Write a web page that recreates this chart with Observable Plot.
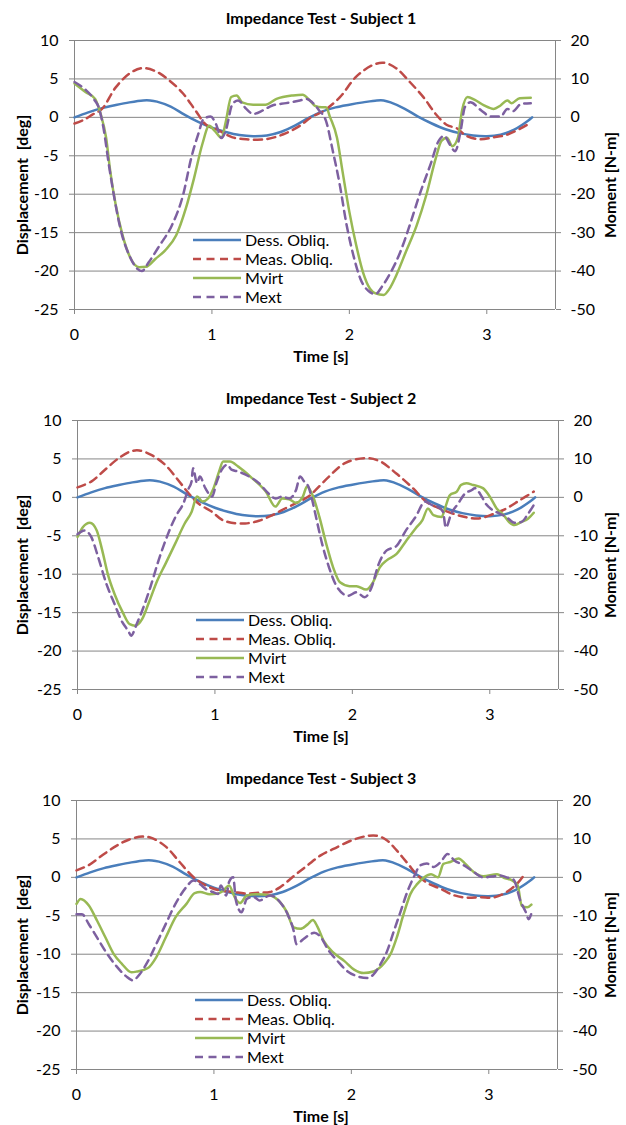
<!DOCTYPE html>
<html>
<head>
<meta charset="utf-8">
<script src="https://cdn.jsdelivr.net/npm/d3@7"></script>
<script src="https://cdn.jsdelivr.net/npm/@observablehq/plot@0.6"></script>
<style>
  html, body { margin: 0; padding: 0; background: #fff; overflow: hidden; }
  .panel { position: relative; width: 626px; height: 380px; }
  .panel svg { display: block; }
  .legend { position: absolute; font-family: Lato, "Open Sans", sans-serif; font-size: 16px; color: #000; }
  .legend .row { height: 19px; display: flex; align-items: center; }
  .legend .row svg { margin-right: 4px; flex: none; }
</style>
</head>
<body>
<div id="chart"></div>
<script>
// ---------- DATA ----------
const panelTitles = ["Impedance Test - Subject 1", "Impedance Test - Subject 2", "Impedance Test - Subject 3"];
const seriesNames = ["Dess. Obliq.", "Meas. Obliq.", "Mvirt", "Mext"];
const seriesColors = ["#4A7EBB", "#BE4B48", "#98B954", "#7D60A0"];
const dispTicks = [-25, -20, -15, -10, -5, 0, 5, 10];       // deg (left axis)
const timeTicks = [0, 1, 2, 3];                               // s

// Desired obliquity (deg) — same reference trajectory in all three tests
const dessObliq = [[0,0],[0.1,0.65],[0.2,1.2],[0.3,1.6],[0.4,1.95],[0.5,2.2],[0.55,2.2],[0.6,2.05],[0.7,1.4],[0.8,0.35],[0.9,-0.6],[1.0,-1.35],[1.1,-1.9],[1.2,-2.3],[1.3,-2.45],[1.4,-2.35],[1.5,-1.9],[1.6,-1.1],[1.7,-0.1],[1.8,0.75],[1.9,1.3],[2.0,1.65],[2.1,1.95],[2.2,2.2],[2.25,2.2],[2.3,1.95],[2.4,1.15],[2.5,0.1],[2.6,-0.8],[2.7,-1.55],[2.8,-2.05],[2.9,-2.35],[3.0,-2.45],[3.1,-2.25],[3.2,-1.6],[3.3,-0.45],[3.33,0]];

// Subject 1
const meas1 = [[0,-0.8],[0.07,-0.3],[0.13,0.35],[0.2,1.1],[0.3,3.9],[0.4,5.7],[0.49,6.4],[0.59,6.0],[0.69,4.8],[0.79,3.1],[0.88,0.9],[0.96,-1.0],[1.03,-1.5],[1.08,-2.0],[1.15,-2.6],[1.25,-2.85],[1.39,-2.85],[1.52,-2.2],[1.64,-1.1],[1.72,0],[1.81,0.8],[1.93,2.6],[2.05,5.3],[2.17,6.8],[2.25,7.1],[2.34,6.4],[2.44,4.6],[2.54,2.6],[2.63,0.4],[2.71,-1.0],[2.78,-1.4],[2.85,-2.4],[2.95,-2.85],[3.05,-2.6],[3.14,-2.3],[3.24,-1.5],[3.31,-0.8]];
const mvirt1 = [[0,8.8],[0.08,6.6],[0.15,4.8],[0.19,0.9],[0.23,-5.3],[0.26,-14],[0.3,-22.8],[0.35,-30.7],[0.41,-36.8],[0.47,-39],[0.52,-38.9],[0.59,-36.8],[0.66,-34.6],[0.74,-30.7],[0.81,-23.7],[0.87,-15.8],[0.93,-7],[0.98,-2.2],[1.02,-3.5],[1.07,-5.3],[1.1,-1.3],[1.14,5.3],[1.18,5.7],[1.22,3.9],[1.3,3.3],[1.39,3.3],[1.47,4.8],[1.59,5.7],[1.66,5.9],[1.71,4.5],[1.75,3.0],[1.8,2.6],[1.83,2.6],[1.86,0],[1.91,-5.3],[1.95,-14],[2.0,-24.6],[2.05,-33.3],[2.1,-40.4],[2.15,-44.6],[2.19,-45.8],[2.25,-46.2],[2.29,-44.7],[2.34,-41.2],[2.41,-35.1],[2.49,-28.1],[2.56,-20.2],[2.63,-10.5],[2.67,-6.1],[2.71,-5.3],[2.75,-7.5],[2.79,-5.3],[2.82,1.8],[2.86,5.3],[2.91,4.6],[2.98,3.1],[3.05,2.2],[3.1,3.1],[3.15,4.4],[3.18,3.7],[3.24,5.0],[3.32,5.1]];
const mext1 = [[0,9.2],[0.08,7.2],[0.14,4.8],[0.18,2.2],[0.21,-2.6],[0.25,-12.3],[0.29,-21],[0.34,-29.8],[0.4,-36],[0.46,-39.5],[0.49,-40],[0.54,-37.7],[0.62,-33.3],[0.71,-28],[0.79,-20.2],[0.85,-10.5],[0.9,-4.4],[0.94,-0.4],[0.99,0.2],[1.03,-1.8],[1.07,-5.4],[1.1,-3.5],[1.15,3.5],[1.19,4.4],[1.25,2.2],[1.3,0.9],[1.37,1.8],[1.44,3.1],[1.54,3.7],[1.64,4.4],[1.69,4.8],[1.73,3.9],[1.78,1.8],[1.83,-0.9],[1.88,-8.8],[1.93,-17.5],[1.98,-28],[2.03,-36],[2.08,-42],[2.14,-45.2],[2.19,-46],[2.24,-43.9],[2.3,-40.4],[2.37,-35.1],[2.44,-28],[2.51,-20.2],[2.59,-12.3],[2.65,-6.1],[2.69,-4.8],[2.73,-7],[2.77,-8.8],[2.81,-3.5],[2.84,2.6],[2.88,3.9],[2.96,1.8],[3.03,0.2],[3.1,0.2],[3.15,2.2],[3.19,1.6],[3.25,3.5],[3.32,3.7]];

// Subject 2
const meas2 = [[0,1.3],[0.1,2.05],[0.2,3.6],[0.3,5.1],[0.39,6.0],[0.45,6.1],[0.54,5.5],[0.64,4.2],[0.73,2.3],[0.81,0.5],[0.88,-0.8],[0.98,-1.9],[1.05,-2.9],[1.12,-3.3],[1.22,-3.4],[1.32,-3.05],[1.42,-2.3],[1.51,-1.45],[1.61,-0.6],[1.68,0.1],[1.73,0.9],[1.83,2.7],[1.95,4.5],[2.1,5.1],[2.2,4.7],[2.32,3.1],[2.44,1.2],[2.54,-0.6],[2.63,-1.4],[2.73,-2.1],[2.83,-2.6],[2.92,-2.75],[3.02,-2.2],[3.12,-1.45],[3.22,-0.35],[3.32,0.75]];
const mvirt2 = [[0,-10.3],[0.04,-7.7],[0.09,-6.6],[0.14,-8.6],[0.18,-13.8],[0.22,-19.9],[0.27,-25.2],[0.33,-30],[0.38,-33],[0.42,-33.4],[0.47,-31.7],[0.52,-27.3],[0.58,-21.7],[0.64,-17.3],[0.71,-12.1],[0.78,-6.8],[0.83,-3.8],[0.87,0.2],[0.91,-1.1],[0.95,-0.3],[0.99,2.4],[1.03,6.7],[1.06,9.3],[1.11,9.3],[1.17,8.0],[1.27,5.0],[1.37,1.5],[1.44,-2.4],[1.49,-0.3],[1.54,-0.5],[1.59,-1.4],[1.64,0.2],[1.67,2.8],[1.71,0.6],[1.76,-5.1],[1.81,-12.1],[1.86,-18.2],[1.91,-22.1],[1.98,-23.1],[2.03,-23.1],[2.1,-24],[2.15,-22.1],[2.2,-18.2],[2.25,-16.4],[2.32,-14.8],[2.39,-11.4],[2.46,-8.1],[2.51,-5.9],[2.55,-2.9],[2.59,-4.6],[2.65,-5.1],[2.67,-3.3],[2.71,0.6],[2.76,1.5],[2.79,3.2],[2.83,3.7],[2.88,3.2],[2.95,2.4],[3.0,0.2],[3.05,-2.9],[3.1,-4.6],[3.14,-6.4],[3.18,-7.2],[3.23,-6.4],[3.28,-5.5],[3.32,-4.0]];
const mext2 = [[0,-9.6],[0.05,-8.6],[0.1,-10.3],[0.15,-15.5],[0.21,-22.5],[0.27,-27.8],[0.32,-32.1],[0.37,-34.8],[0.39,-36],[0.43,-33],[0.48,-28.6],[0.53,-23.4],[0.59,-16.4],[0.66,-9.4],[0.72,-4.6],[0.77,-1.6],[0.81,2.4],[0.83,4.1],[0.84,7.6],[0.87,3.7],[0.89,5.4],[0.93,2.4],[0.98,0.2],[1.01,3.7],[1.05,7.2],[1.09,8.5],[1.12,7.2],[1.17,6.7],[1.25,5.4],[1.32,3.7],[1.39,1.0],[1.44,-0.3],[1.49,0.2],[1.54,-0.3],[1.59,1.9],[1.62,5.4],[1.65,4.1],[1.68,2.8],[1.71,-1.0],[1.73,-4.2],[1.78,-12.1],[1.83,-18.2],[1.89,-23.4],[1.97,-25.6],[2.03,-24.7],[2.09,-26],[2.14,-23.4],[2.19,-17.5],[2.25,-13.8],[2.32,-12.7],[2.39,-8.6],[2.46,-5.1],[2.53,-1.1],[2.58,-2.0],[2.62,-2.4],[2.66,-3.8],[2.68,-7.9],[2.72,-4.2],[2.77,-1.6],[2.82,1.0],[2.87,1.9],[2.89,2.4],[2.93,0.9],[2.97,-1.6],[3.02,-3.3],[3.07,-4.2],[3.12,-5.1],[3.18,-6.6],[3.23,-6.4],[3.28,-4.2],[3.32,-2.0]];

// Subject 3
const meas3 = [[0,0.9],[0.09,1.6],[0.19,2.9],[0.29,4.1],[0.38,4.9],[0.48,5.3],[0.55,5.1],[0.65,4.0],[0.75,2.0],[0.85,0.05],[0.94,-1.05],[1.04,-1.7],[1.14,-1.9],[1.24,-2.1],[1.33,-2.0],[1.41,-1.9],[1.48,-1.3],[1.58,0.15],[1.68,1.55],[1.78,2.9],[1.87,3.7],[2.0,4.8],[2.12,5.4],[2.19,5.4],[2.26,4.8],[2.33,3.5],[2.41,1.8],[2.48,0.3],[2.55,-0.7],[2.65,-1.5],[2.75,-2.35],[2.84,-2.65],[2.94,-2.6],[3.04,-2.6],[3.13,-1.9],[3.21,-0.75],[3.26,0.4]];
const mvirt3 = [[0,-6.9],[0.03,-5.6],[0.09,-7.3],[0.15,-11.3],[0.21,-15.6],[0.27,-19.9],[0.33,-22.5],[0.4,-24.7],[0.44,-24.5],[0.52,-23.6],[0.58,-20.8],[0.65,-15.6],[0.72,-10.4],[0.8,-6.9],[0.86,-4.1],[0.9,-3.8],[0.97,-4.4],[1.02,-4.3],[1.07,-3.4],[1.11,-2.1],[1.15,-5.1],[1.19,-6.7],[1.24,-4.7],[1.31,-4.4],[1.41,-4.7],[1.48,-6.4],[1.53,-9.0],[1.58,-13],[1.63,-13.4],[1.68,-12.3],[1.72,-11.1],[1.75,-12.6],[1.8,-16.6],[1.87,-19.6],[1.95,-21.8],[2.02,-24],[2.09,-24.9],[2.16,-24.5],[2.24,-22.3],[2.29,-19.6],[2.33,-15.7],[2.38,-9.6],[2.43,-4.3],[2.48,-1.7],[2.53,0],[2.58,0.8],[2.63,0],[2.67,3.5],[2.72,4.0],[2.78,4.9],[2.83,3.5],[2.89,1.4],[2.96,0.3],[3.06,0.8],[3.11,-0.1],[3.17,-0.8],[3.21,-2.1],[3.24,-7.4],[3.28,-7.8],[3.31,-7.1]];
const mext3 = [[0,-9.6],[0.04,-9.6],[0.09,-12.2],[0.15,-15.7],[0.21,-19.2],[0.29,-23.1],[0.36,-25.7],[0.41,-26.8],[0.46,-25.2],[0.52,-21.8],[0.58,-17.4],[0.65,-12.1],[0.72,-6.9],[0.8,-2.5],[0.85,-0.8],[0.9,-1.8],[0.94,-3.0],[0.99,-3.8],[1.03,-4.3],[1.05,-2.1],[1.09,-4.7],[1.11,-1.2],[1.14,0],[1.16,-6.0],[1.2,-9.1],[1.24,-5.6],[1.29,-5.1],[1.33,-6.0],[1.41,-4.7],[1.48,-6.4],[1.54,-9.9],[1.58,-13.9],[1.6,-17.4],[1.65,-16.1],[1.7,-14.8],[1.73,-14.4],[1.78,-15.7],[1.83,-18.8],[1.9,-21.8],[1.97,-24.4],[2.04,-25.7],[2.12,-26.2],[2.16,-25.3],[2.21,-22.7],[2.26,-19.2],[2.31,-13.9],[2.36,-8.7],[2.41,-3.5],[2.46,0.5],[2.5,3.1],[2.55,3.6],[2.6,2.7],[2.65,4.0],[2.7,6.1],[2.75,4.4],[2.82,3.1],[2.89,1.4],[2.96,0],[3.04,0.3],[3.08,0.5],[3.13,0],[3.18,-0.6],[3.23,-6.1],[3.27,-9.1],[3.29,-10.9],[3.31,-9.4]];

// ---------- CHART ----------
const panels = [
  {title: panelTitles[0], meas: meas1, mvirt: mvirt1, mext: mext1, off: 0},
  {title: panelTitles[1], meas: meas2, mvirt: mvirt2, mext: mext2, off: 3},
  {title: panelTitles[2], meas: meas3, mvirt: mvirt3, mext: mext3, off: 2}
];
const FONT = "Lato, 'Open Sans', sans-serif";
const GRID = "#868686";
const DASH = "8,5.5";
const rows = arr => arr.map(([t, v]) => ({t, v}));
const lbl = {fontWeight: "bold", fontSize: 16, fill: "#000", lineAnchor: "middle", textAnchor: "middle"};

const root = document.getElementById("chart");
for (const p of panels) {
  const div = document.createElement("div");
  div.className = "panel";
  const chart = Plot.plot({
    width: 626, height: 380,
    marginTop: 40, marginBottom: 71,
    marginLeft: 74 + p.off, marginRight: 71 - p.off,
    x: {domain: [0, 3.5]},
    y: {domain: [-25, 10]},
    style: {fontFamily: FONT, fontSize: "16px", color: "#000", background: "#fff", overflow: "visible"},
    marks: [
      Plot.gridY({ticks: dispTicks, stroke: GRID, strokeOpacity: 1, strokeWidth: 1}),
      Plot.ruleX([0], {stroke: GRID, strokeWidth: 1}),
      Plot.ruleX([3.5], {stroke: GRID, strokeWidth: 1}),
      Plot.axisY({ticks: dispTicks, tickSize: 5, tickPadding: 11, tickFormat: d => String(d), label: null, stroke: GRID, fill: "#000"}),
      Plot.axisY({anchor: "right", ticks: dispTicks, tickSize: 5, tickPadding: 10, tickFormat: d => String(d * 2), label: null, stroke: GRID, fill: "#000"}),
      Plot.axisX({ticks: timeTicks, tickSize: 5, tickPadding: 14, tickFormat: d => String(d), label: null, stroke: GRID, fill: "#000"}),
      Plot.line(rows(dessObliq), {x: "t", y: "v", stroke: seriesColors[0], strokeWidth: 2.5, curve: "catmull-rom"}),
      Plot.line(rows(p.meas), {x: "t", y: "v", stroke: seriesColors[1], strokeWidth: 2.5, strokeDasharray: DASH, curve: "catmull-rom"}),
      Plot.line(rows(p.mvirt), {x: "t", y: d => d.v / 2, stroke: seriesColors[2], strokeWidth: 2.5, curve: "monotone-x"}),
      Plot.line(rows(p.mext), {x: "t", y: d => d.v / 2, stroke: seriesColors[3], strokeWidth: 2.5, strokeDasharray: DASH, curve: "monotone-x"}),
      Plot.text([p.title], {...lbl, frameAnchor: "top", dy: -22, dx: 6 - p.off}),
      Plot.text(["Time [s]"], {...lbl, frameAnchor: "bottom", dy: 47, dx: 6 - p.off}),
      Plot.text(["Displacement  [deg]"], {...lbl, frameAnchor: "left", dx: -52 - p.off, dy: 10, rotate: -90}),
      Plot.text(["Moment [N-m]"], {...lbl, frameAnchor: "right", dx: 55 - p.off, dy: 10, rotate: -90})
    ]
  });
  div.appendChild(chart);

  // legend
  const leg = document.createElement("div");
  leg.className = "legend";
  leg.style.left = (193 + p.off) + "px";
  leg.style.top = "230px";
  seriesNames.forEach((name, i) => {
    const r = document.createElement("div");
    r.className = "row";
    const dashed = i % 2 === 1;
    r.innerHTML = `<svg width="48" height="6"><line x1="0" y1="3" x2="48" y2="3" stroke="${seriesColors[i]}" stroke-width="2.5" ${dashed ? `stroke-dasharray="${DASH}"` : ""}/></svg><span>${name}</span>`;
    leg.appendChild(r);
  });
  div.appendChild(leg);
  root.appendChild(div);
}
</script>
</body>
</html>
